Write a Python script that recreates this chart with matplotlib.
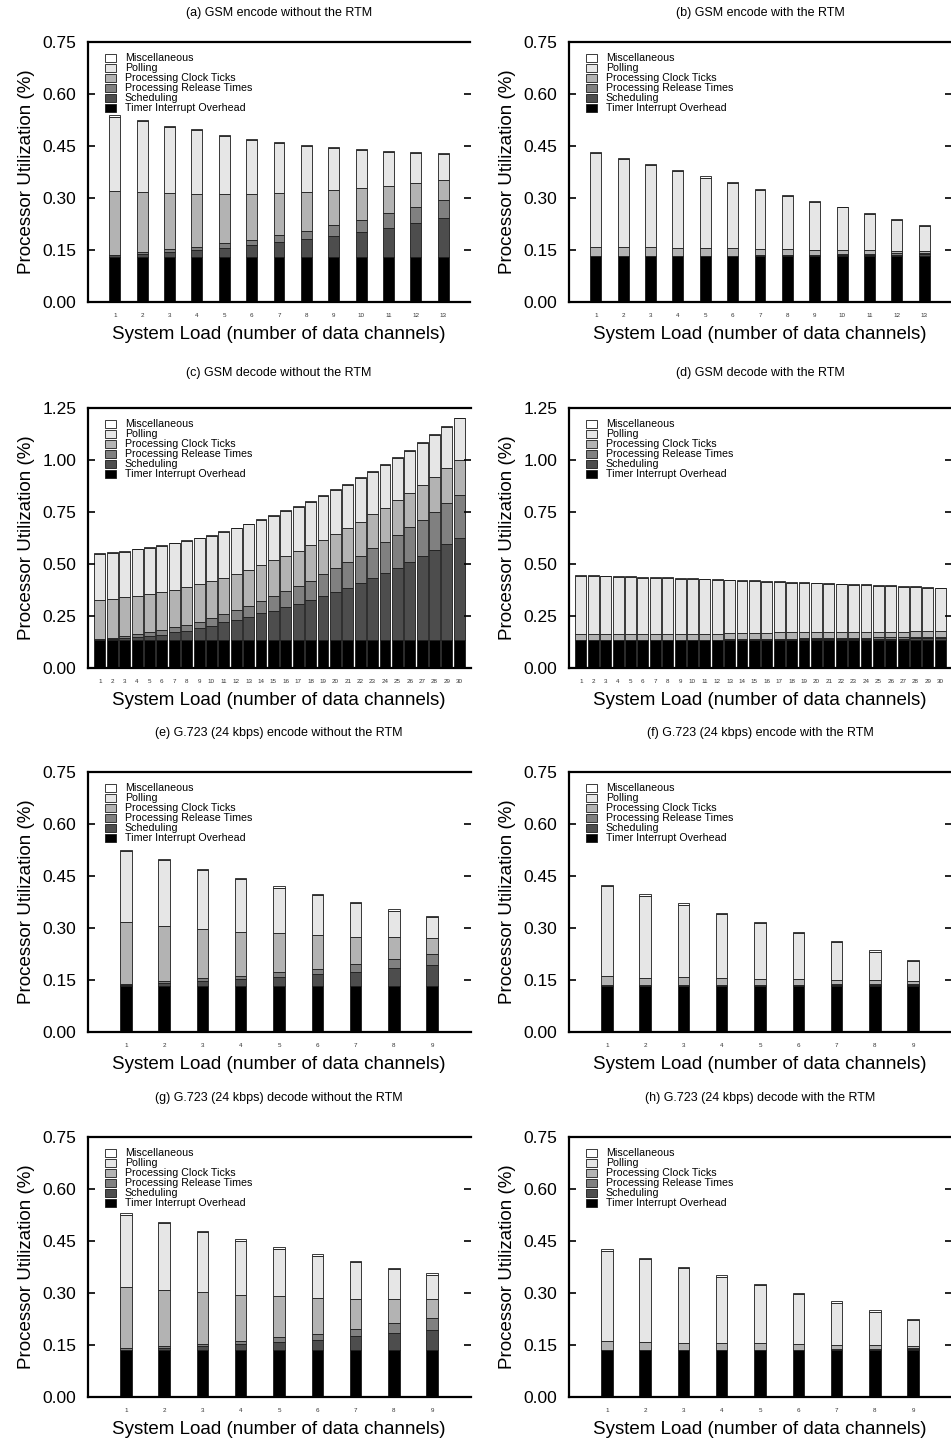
import numpy as np
import matplotlib
matplotlib.use('Agg')
import matplotlib.pyplot as plt

plt.rcParams['font.family'] = ['Liberation Sans', 'DejaVu Sans']

# ---- data (processor utilization %, per component, bottom to top) ----
names = ['Timer Interrupt Overhead', 'Scheduling', 'Processing Release Times',
         'Processing Clock Ticks', 'Polling', 'Miscellaneous']
colors = ['#000000', '#4d4d4d', '#808080', '#b3b3b3', '#e6e6e6', '#ffffff']

# (a) GSM encode without the RTM
timer_a = [0.130, 0.130, 0.130, 0.130, 0.130, 0.130, 0.130, 0.130, 0.130, 0.130, 0.130, 0.130, 0.130]
sched_a = [0.005, 0.008, 0.014, 0.020, 0.025, 0.034, 0.042, 0.051, 0.061, 0.071, 0.083, 0.097, 0.112]
release_a = [0.002, 0.006, 0.008, 0.010, 0.014, 0.015, 0.020, 0.024, 0.030, 0.035, 0.043, 0.046, 0.052]
clock_a = [0.184, 0.173, 0.161, 0.151, 0.142, 0.133, 0.122, 0.113, 0.101, 0.092, 0.080, 0.070, 0.059]
polling_a = [0.213, 0.205, 0.191, 0.184, 0.167, 0.156, 0.145, 0.133, 0.121, 0.111, 0.098, 0.088, 0.074]
misc_a = [0.004, 0.003, 0.004, 0.003, 0.003, 0.003, 0.003, 0.003, 0.004, 0.003, 0.003, 0.003, 0.003]

# (b) GSM encode with the RTM
timer_b = [0.132, 0.132, 0.132, 0.132, 0.132, 0.132, 0.132, 0.132, 0.132, 0.132, 0.132, 0.132, 0.132]
sched_b = [0.000, 0.000, 0.000, 0.000, 0.000, 0.000, 0.002, 0.003, 0.003, 0.004, 0.005, 0.005, 0.006]
release_b = [0.001, 0.001, 0.001, 0.001, 0.001, 0.001, 0.001, 0.001, 0.002, 0.002, 0.002, 0.003, 0.003]
clock_b = [0.027, 0.027, 0.026, 0.024, 0.022, 0.022, 0.019, 0.016, 0.014, 0.013, 0.010, 0.008, 0.007]
polling_b = [0.270, 0.253, 0.235, 0.220, 0.204, 0.188, 0.170, 0.155, 0.137, 0.122, 0.105, 0.089, 0.071]
misc_b = [0.004, 0.003, 0.004, 0.004, 0.004, 0.003, 0.003, 0.003, 0.003, 0.002, 0.003, 0.003, 0.002]

# (c) GSM decode without the RTM
timer_c = [0.135] * 30
sched_c = [0.002, 0.004, 0.007, 0.012, 0.017, 0.025, 0.037, 0.045, 0.057, 0.068,
           0.084, 0.095, 0.112, 0.128, 0.140, 0.157, 0.174, 0.191, 0.211, 0.232,
           0.251, 0.274, 0.299, 0.323, 0.347, 0.375, 0.403, 0.433, 0.463, 0.492]
release_c = [0.003, 0.007, 0.013, 0.016, 0.019, 0.022, 0.023, 0.028, 0.031, 0.039,
             0.039, 0.047, 0.050, 0.057, 0.070, 0.078, 0.086, 0.094, 0.104, 0.113,
             0.126, 0.131, 0.141, 0.148, 0.159, 0.167, 0.175, 0.183, 0.195, 0.204]
clock_c = [0.187, 0.187, 0.185, 0.184, 0.184, 0.183, 0.181, 0.180, 0.179, 0.175,
           0.176, 0.175, 0.176, 0.176, 0.173, 0.170, 0.168, 0.170, 0.165, 0.163,
           0.163, 0.163, 0.164, 0.164, 0.165, 0.166, 0.167, 0.167, 0.167, 0.167]
polling_c = [0.223, 0.222, 0.220, 0.223, 0.221, 0.222, 0.223, 0.222, 0.221, 0.218,
             0.221, 0.219, 0.217, 0.215, 0.212, 0.214, 0.213, 0.209, 0.211, 0.212,
             0.207, 0.211, 0.204, 0.208, 0.206, 0.201, 0.204, 0.201, 0.199, 0.202]
misc_c = [0.004] * 30

# (d) GSM decode with the RTM
timer_d = [0.135] * 30
sched_d = [0.000, 0.000, 0.000, 0.000, 0.000, 0.000, 0.000, 0.000, 0.000, 0.000,
           0.000, 0.000, 0.001, 0.001, 0.002, 0.002, 0.003, 0.003, 0.003, 0.004,
           0.004, 0.005, 0.005, 0.005, 0.006, 0.006, 0.006, 0.007, 0.007, 0.008]
release_d = [0.001, 0.001, 0.001, 0.001, 0.001, 0.001, 0.001, 0.001, 0.001, 0.001,
             0.001, 0.001, 0.002, 0.002, 0.002, 0.003, 0.003, 0.003, 0.004, 0.004,
             0.004, 0.005, 0.005, 0.005, 0.006, 0.006, 0.006, 0.007, 0.007, 0.007]
clock_d = [0.027, 0.027, 0.027, 0.027, 0.027, 0.027, 0.027, 0.027, 0.027, 0.027,
           0.027, 0.027, 0.029, 0.029, 0.029, 0.030, 0.030, 0.030, 0.029, 0.029,
           0.029, 0.028, 0.028, 0.029, 0.027, 0.028, 0.028, 0.027, 0.027, 0.026]
polling_d = [0.281, 0.279, 0.277, 0.275, 0.274, 0.271, 0.270, 0.269, 0.267, 0.264,
             0.263, 0.261, 0.254, 0.252, 0.249, 0.245, 0.243, 0.240, 0.238, 0.235,
             0.232, 0.229, 0.228, 0.224, 0.221, 0.218, 0.216, 0.212, 0.210, 0.207]
misc_d = [0.004] * 30

# (e) G.723 (24 kbps) encode without the RTM
timer_e = [0.133] * 9
sched_e = [0.002, 0.007, 0.013, 0.020, 0.027, 0.033, 0.041, 0.051, 0.060]
release_e = [0.003, 0.007, 0.009, 0.009, 0.013, 0.017, 0.021, 0.026, 0.033]
clock_e = [0.178, 0.159, 0.141, 0.127, 0.112, 0.096, 0.080, 0.063, 0.046]
polling_e = [0.206, 0.189, 0.171, 0.152, 0.131, 0.115, 0.096, 0.077, 0.059]
misc_e = [0.004] * 9

# (f) G.723 (24 kbps) encode with the RTM
timer_f = [0.134] * 9
sched_f = [0.000, 0.000, 0.000, 0.000, 0.000, 0.001, 0.002, 0.003, 0.003]
release_f = [0.001, 0.001, 0.001, 0.001, 0.001, 0.001, 0.002, 0.002, 0.002]
clock_f = [0.027, 0.022, 0.023, 0.021, 0.019, 0.016, 0.012, 0.010, 0.009]
polling_f = [0.258, 0.236, 0.209, 0.184, 0.159, 0.133, 0.109, 0.083, 0.056]
misc_f = [0.004] * 9

# (g) G.723 (24 kbps) decode without the RTM
timer_g = [0.135] * 9
sched_g = [0.002, 0.006, 0.012, 0.017, 0.024, 0.030, 0.040, 0.049, 0.059]
release_g = [0.005, 0.006, 0.005, 0.010, 0.013, 0.018, 0.021, 0.029, 0.033]
clock_g = [0.176, 0.163, 0.150, 0.132, 0.118, 0.103, 0.088, 0.070, 0.056]
polling_g = [0.208, 0.191, 0.174, 0.157, 0.138, 0.122, 0.104, 0.086, 0.070]
misc_g = [0.004] * 9

# (h) G.723 (24 kbps) decode with the RTM
timer_h = [0.135] * 9
sched_h = [0.000, 0.000, 0.000, 0.000, 0.000, 0.001, 0.002, 0.002, 0.003]
release_h = [0.001, 0.001, 0.001, 0.001, 0.001, 0.001, 0.001, 0.002, 0.002]
clock_h = [0.026, 0.023, 0.021, 0.021, 0.019, 0.017, 0.013, 0.011, 0.008]
polling_h = [0.260, 0.238, 0.215, 0.190, 0.167, 0.143, 0.121, 0.096, 0.074]
misc_h = [0.004] * 9

titles = ['(a) GSM encode without the RTM', '(b) GSM encode with the RTM',
          '(c) GSM decode without the RTM', '(d) GSM decode with the RTM',
          '(e) G.723 (24 kbps) encode without the RTM', '(f) G.723 (24 kbps) encode with the RTM',
          '(g) G.723 (24 kbps) decode without the RTM', '(h) G.723 (24 kbps) decode with the RTM']

panels = [
    [timer_a, sched_a, release_a, clock_a, polling_a, misc_a],
    [timer_b, sched_b, release_b, clock_b, polling_b, misc_b],
    [timer_c, sched_c, release_c, clock_c, polling_c, misc_c],
    [timer_d, sched_d, release_d, clock_d, polling_d, misc_d],
    [timer_e, sched_e, release_e, clock_e, polling_e, misc_e],
    [timer_f, sched_f, release_f, clock_f, polling_f, misc_f],
    [timer_g, sched_g, release_g, clock_g, polling_g, misc_g],
    [timer_h, sched_h, release_h, clock_h, polling_h, misc_h],
]

ymax = [0.75, 0.75, 1.25, 1.25, 0.75, 0.75, 0.75, 0.75]

W, H = 951, 1442
fig = plt.figure(figsize=(W / 100, H / 100), dpi=100)

row_bottom = [302, 668, 1032, 1397]
row_h = 260
col_left = [87.5, 568.5]
col_w = 383
title_pad = [19, 23, 26, 26]

for i, comps in enumerate(panels):
    r, c = divmod(i, 2)
    ax = fig.add_axes([col_left[c] / W, 1 - row_bottom[r] / H, col_w / W, row_h / H])
    n = len(comps[0])
    x = np.arange(1, n + 1)
    width = {13: 0.4, 30: 0.88, 9: 0.3}[n]

    bottom = np.zeros(n)
    handles = []
    for vals, col, name in zip(comps, colors, names):
        vals = np.array(vals)
        h = ax.bar(x, vals, width, bottom=bottom, color=col, edgecolor='#1a1a1a',
                   linewidth=0.6, label=name)
        handles.append(h)
        bottom += vals

    ax.set_xlim(0, n + 1 if n != 30 else 30.9)
    ax.set_ylim(0, ymax[i])
    step = 0.15 if ymax[i] == 0.75 else 0.25
    ax.set_yticks(np.arange(0, ymax[i] + 0.001, step))
    ax.yaxis.set_major_formatter(matplotlib.ticker.FormatStrFormatter('%.2f'))
    ax.set_xticks(x)
    ax.set_xticklabels([str(v) for v in x], fontsize=4.5, color='#333333')
    ax.tick_params(axis='x', length=0, pad=8)
    ax.tick_params(axis='y', direction='in', length=5, width=1.2, labelsize=12.5,
                   right=True, pad=8)

    for s in ['left', 'top', 'bottom']:
        ax.spines[s].set_linewidth(1.6)
    ax.spines['right'].set_visible(False)

    ax.set_ylabel('Processor Utilization (%)', fontsize=13.5, labelpad=5)
    ax.set_xlabel('System Load (number of data channels)', fontsize=13.5, labelpad=6)
    ax.set_title(titles[i], fontsize=9, pad=title_pad[r])

    leg = ax.legend(handles[::-1], names[::-1], loc='upper left',
                    bbox_to_anchor=(0.025, 0.985), frameon=False, fontsize=7.7,
                    labelspacing=0.0, handlelength=1.1, handleheight=0.75,
                    handletextpad=0.8, borderpad=0.2)

fig.savefig('out.png', dpi=100)
